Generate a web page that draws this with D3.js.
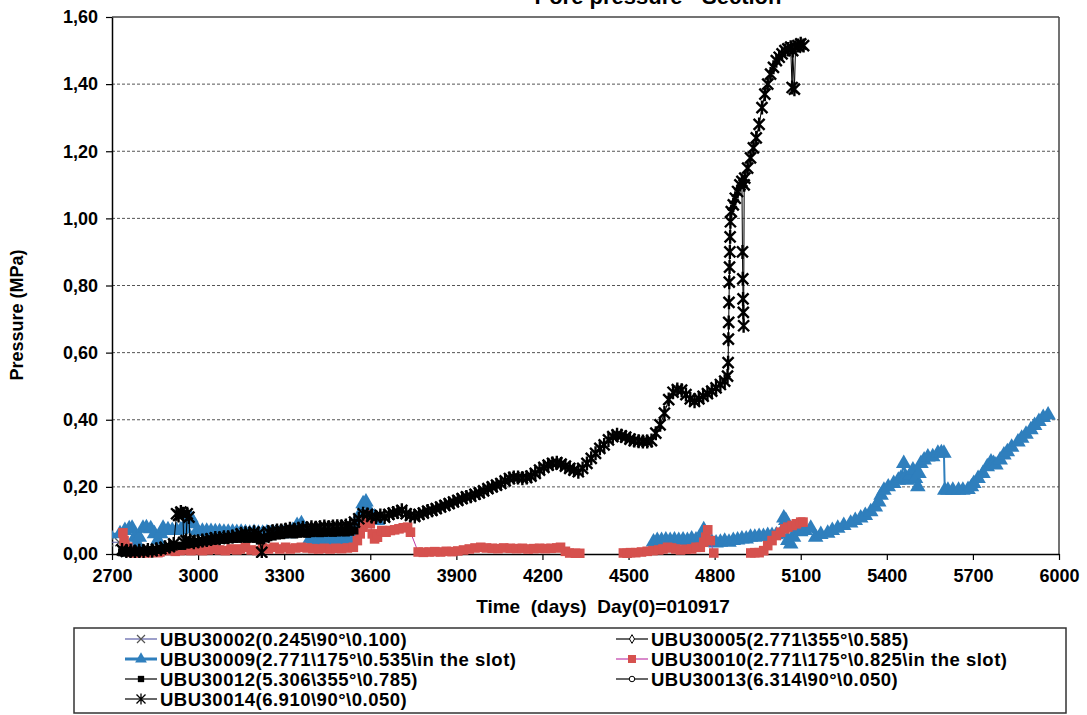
<!DOCTYPE html>
<html><head><meta charset="utf-8">
<script src="https://cdn.jsdelivr.net/npm/d3@7"></script>
<style>
body{margin:0;background:#fff}
text{font-family:"Liberation Sans",Arial,sans-serif;font-weight:bold;fill:#000}
</style>
</head><body>
<svg id="c" width="1087" height="715"></svg>
<script>
// ---------- data ----------
const xTicks = [2700,3000,3300,3600,3900,4200,4500,4800,5100,5400,5700,6000];
const yTicks = [0,0.2,0.4,0.6,0.8,1.0,1.2,1.4,1.6];
const titleText = "Pore pressure - Section";
const xLabel = "Time  (days)  Day(0)=010917";
const yLabel = "Pressure (MPa)";
const seriesNames = ["UBU30002(0.245\\90°\\0.100)","UBU30005(2.771\\355°\\0.585)","UBU30009(2.771\\175°\\0.535\\in the slot)","UBU30010(2.771\\175°\\0.825\\in the slot)","UBU30012(5.306\\355°\\0.785)","UBU30013(6.314\\90°\\0.050)","UBU30014(6.910\\90°\\0.050)"];

const ubu30002 = [[2690,0.035],[2725,0.035]];
const ubu30005 = [];
const ubu30013 = [];

const ubu30009 = [
[2690,0.06],[2728,0.06],[2745,0.07],[2760,0.075],[2770,0.077],[2780,0.05],[2787,0.033],[2795,0.05],[2808,0.077],[2820,0.078],[2835,0.075],[2848,0.06],[2860,0.042],[2870,0.06],[2878,0.077],[2895,0.072],[2910,0.07],[2925,0.07],[2940,0.072],[2955,0.075],[2965,0.1],[2975,0.107],[2985,0.09],[2997,0.07],[3015,0.068],[3030,0.068],[3045,0.067],[3060,0.066],[3075,0.066],[3090,0.065],[3105,0.065],[3120,0.065],[3135,0.064],[3150,0.065],[3165,0.063],[3180,0.062],[3195,0.064],[3210,0.062],[3225,0.062],[3240,0.063],[3255,0.062],[3270,0.062],[3285,0.06],[3300,0.062],[3315,0.06],[3330,0.07],[3345,0.085],[3360,0.09],[3375,0.07],[3390,0.045],[3405,0.042],[3420,0.04],[3435,0.045],[3450,0.042],[3465,0.04],[3480,0.043],[3495,0.045],[3510,0.042],[3525,0.045],[3540,0.055],[3555,0.09],[3565,0.12],[3575,0.15],[3585,0.155],[3595,0.13],[3605,0.115],[3615,0.11],[3625,0.1],
[3630,null],
[4587,0.036],[4600,0.04],[4615,0.04],[4630,0.042],[4645,0.04],[4660,0.042],[4675,0.04],[4690,0.042],[4705,0.04],[4720,0.045],[4735,0.042],[4750,0.045],[4762,0.072],[4775,0.045],[4790,0.035],[4805,0.033],[4820,0.035],[4835,0.038],[4850,0.035],[4865,0.04],[4880,0.042],[4895,0.045],[4910,0.045],[4925,0.05],[4940,0.05],[4955,0.052],[4970,0.052],[4985,0.055],[5000,0.055],[5015,0.057],[5030,0.06],[5041,0.107],[5048,0.1],[5055,0.04],[5065,0.03],[5075,0.05],[5085,0.07],[5100,0.066],[5115,0.07],[5135,0.077],[5152,0.05],[5170,0.058],[5194,0.062],[5210,0.07],[5229,0.077],[5250,0.085],[5274,0.092],[5290,0.1],[5309,0.107],[5325,0.115],[5344,0.126],[5360,0.14],[5372,0.155],[5380,0.175],[5390,0.19],[5405,0.2],[5424,0.21],[5440,0.22],[5449,0.226],[5459,0.27],[5465,0.23],[5473,0.22],[5482,0.235],[5491,0.25],[5500,0.225],[5508,0.2],[5512,0.24],[5519,0.27],[5530,0.28],[5543,0.289],[5560,0.29],[5578,0.3],[5590,0.302],[5599,0.3],[5602,0.19],[5613,0.19],[5630,0.19],[5650,0.19],[5665,0.19],[5683,0.192],[5695,0.2],[5703,0.21],[5718,0.225],[5735,0.24],[5750,0.26],[5763,0.274],[5772,0.27],[5780,0.265],[5795,0.28],[5808,0.295],[5820,0.305],[5835,0.318],[5857,0.334],[5870,0.345],[5885,0.357],[5902,0.37],[5915,0.383],[5930,0.395],[5945,0.407],[5962,0.414]
];

const ubu30010 = [
[2738,0.063],[2742,0.04],[2745,0.027],[2755,0.02],[2765,0.005],[2780,0.003],[2800,0.004],[2820,0.003],[2840,0.005],[2860,0.004],[2867,0.006],[2885,0.01],[2900,0.012],[2920,0.008],[2937,0.01],[2955,0.012],[2975,0.01],[2995,0.012],[3015,0.01],[3035,0.012],[3055,0.015],[3075,0.012],[3095,0.01],[3115,0.015],[3135,0.012],[3147,0.015],[3165,0.02],[3185,0.012],[3205,0.01],[3225,0.018],[3245,0.015],[3265,0.02],[3285,0.015],[3305,0.02],[3321,0.015],[3340,0.018],[3360,0.02],[3380,0.018],[3400,0.016],[3420,0.015],[3440,0.017],[3460,0.015],[3480,0.017],[3500,0.016],[3520,0.018],[3541,0.02],[3555,0.04],[3565,0.06],[3575,0.08],[3585,0.1],[3592,0.116],[3600,0.09],[3607,0.06],[3615,0.045],[3625,0.05],[3640,0.07],[3655,0.065],[3670,0.07],[3685,0.072],[3700,0.075],[3715,0.078],[3730,0.08],[3740,0.065],[3767,0.006],[3785,0.005],[3805,0.006],[3825,0.007],[3845,0.006],[3865,0.008],[3885,0.007],[3905,0.009],[3925,0.012],[3945,0.015],[3965,0.018],[3985,0.02],[4005,0.018],[4025,0.017],[4045,0.016],[4065,0.018],[4088,0.017],[4110,0.016],[4130,0.017],[4150,0.015],[4170,0.016],[4190,0.017],[4210,0.016],[4230,0.017],[4250,0.018],[4263,0.02],[4280,0.008],[4295,0.003],[4315,0.002],[4330,0.002],
[4400,null],
[4482,0.003],[4495,0.002],[4507,0.004],[4525,0.004],[4545,0.006],[4565,0.008],[4585,0.01],[4605,0.012],[4620,0.015],[4636,0.02],[4650,0.018],[4665,0.015],[4681,0.012],[4700,0.014],[4720,0.015],[4735,0.02],[4750,0.02],[4762,0.035],[4769,0.05],[4776,0.072],[4785,0.04],[4797,0.003],
[4850,null],
[4926,0.003],[4940,0.004],[4955,0.004],[4971,0.01],[4985,0.025],[5000,0.04],[5015,0.055],[5030,0.065],[5045,0.075],[5055,0.08],[5070,0.085],[5085,0.09],[5100,0.095],[5108,0.095]
];

const ubu30012 = [
[2735,0.005],[2750,0.004],[2765,0.006],[2780,0.005],[2795,0.008],[2810,0.007],[2825,0.01],[2840,0.008],[2855,0.012],[2870,0.012],[2885,0.018],[2900,0.02],[2915,0.022],[2930,0.025],[2945,0.024],[2960,0.028],[2975,0.03],[2990,0.032],[3005,0.035],[3020,0.037],[3035,0.038],[3050,0.04],[3065,0.04],[3080,0.042],[3095,0.042],[3110,0.044],[3125,0.045],[3140,0.045],[3155,0.046],[3170,0.045],[3185,0.046],[3200,0.045],[3215,0.04],[3230,0.046],[3245,0.05],[3260,0.052],[3275,0.055],[3290,0.056],[3305,0.058],[3320,0.06],[3335,0.058],[3350,0.06],[3365,0.062],[3380,0.06],[3395,0.062],[3410,0.063],[3425,0.062],[3440,0.063],[3455,0.064],[3470,0.063],[3485,0.064],[3500,0.065],[3515,0.064],[3530,0.066],[3545,0.07]
];

const ubu30014 = [
[2735,0.012],[2750,0.008],[2765,0.01],[2780,0.006],[2795,0.01],[2810,0.008],[2825,0.012],[2840,0.01],[2855,0.014],[2870,0.016],[2885,0.02],[2900,0.022],[2915,0.03],[2925,0.12],[2932,0.115],[2940,0.125],[2947,0.12],[2950,0.035],[2958,0.04],[2962,0.12],[2968,0.11],[2972,0.04],[2985,0.035],[3000,0.038],[3015,0.04],[3030,0.042],[3045,0.045],[3060,0.048],[3075,0.047],[3090,0.05],[3105,0.05],[3120,0.052],[3135,0.055],[3150,0.06],[3165,0.062],[3180,0.058],[3195,0.065],[3210,0.06],[3222,0.005],[3230,0.05],[3245,0.065],[3260,0.068],[3275,0.07],[3290,0.07],[3305,0.072],[3320,0.075],[3335,0.072],[3350,0.075],[3365,0.078],[3380,0.076],[3395,0.08],[3410,0.078],[3425,0.08],[3440,0.082],[3455,0.08],[3470,0.082],[3485,0.083],[3500,0.082],[3515,0.085],[3530,0.085],[3545,0.095],[3560,0.105],[3575,0.12],[3590,0.118],[3605,0.112],[3620,0.11],[3635,0.115],[3650,0.11],[3665,0.118],[3680,0.122],[3695,0.125],[3710,0.13],[3725,0.12],
[3740,0.115],[3755,0.112],[3770,0.118],[3785,0.122],[3800,0.128],[3815,0.13],[3830,0.135],[3845,0.14],[3860,0.145],[3875,0.15],[3890,0.155],[3905,0.16],[3920,0.165],[3935,0.17],[3950,0.172],[3965,0.178],[3980,0.182],[3995,0.188],[4010,0.195],[4025,0.2],[4040,0.205],[4055,0.21],[4070,0.218],[4085,0.225],[4100,0.228],[4115,0.228],[4130,0.226],[4145,0.228],[4160,0.232],[4175,0.24],[4190,0.25],[4205,0.258],[4220,0.265],[4235,0.27],[4250,0.272],[4265,0.268],[4280,0.262],[4295,0.255],[4310,0.25],[4325,0.245],[4340,0.255],[4355,0.27],[4370,0.285],[4385,0.3],[4400,0.315],[4415,0.325],[4430,0.34],[4445,0.35],[4460,0.355],[4475,0.352],[4490,0.348],[4505,0.342],[4520,0.338],[4535,0.336],[4550,0.335],[4565,0.335],[4580,0.338],[4595,0.36],[4610,0.385],[4625,0.42],[4640,0.46],[4655,0.482],[4670,0.49],[4685,0.488],[4700,0.475],[4715,0.462],[4730,0.455],[4745,0.462],[4760,0.47],[4775,0.478],[4790,0.485],[4805,0.495],[4820,0.505],[4835,0.515],[4845,0.53],
[4847,0.57],[4848,0.64],[4849,0.69],[4850,0.75],[4851,0.81],[4852,0.855],[4853,0.9],[4854,0.945],[4855,0.99],[4858,1.02],[4865,1.04],[4872,1.06],[4880,1.08],[4888,1.1],[4895,1.11],[4897,0.9],[4898,0.82],[4899,0.76],[4900,0.72],[4901,0.68],[4903,1.1],[4905,1.12],[4915,1.15],[4925,1.18],[4935,1.21],[4945,1.24],[4955,1.28],[4965,1.33],[4975,1.37],[4985,1.4],[4995,1.43],[5005,1.45],[5015,1.47],[5025,1.48],[5035,1.49],[5045,1.5],[5055,1.505],[5065,1.51],[5070,1.39],[5072,1.5],[5078,1.385],[5082,1.51],[5090,1.515],[5100,1.52],[5110,1.515]
];

// ---------- layout ----------
const svg = d3.select("#c");
const L = 112, R = 1059, T = 17, B = 554;
const x = d3.scaleLinear().domain([2700,6000]).range([L,R]);
const y = d3.scaleLinear().domain([0,1.6]).range([B,T]);

svg.append("defs").append("clipPath").attr("id","clip")
  .append("rect").attr("x",L).attr("y",T-8).attr("width",R-L).attr("height",B-T+12);

// title (cut at top in reference)
svg.append("text").attr("x",658).attr("y",4).attr("text-anchor","middle")
  .style("font-size","22px").text(titleText);

// gridlines
svg.append("g").selectAll("line").data(yTicks.filter(d=>d>0&&d<1.6)).join("line")
  .attr("x1",L).attr("x2",R).attr("y1",d=>y(d)).attr("y2",d=>y(d))
  .attr("stroke","#555").attr("stroke-width",1).attr("stroke-dasharray","3,2");
svg.append("line").attr("x1",L).attr("x2",R).attr("y1",y(1.6)).attr("y2",y(1.6)).attr("stroke","#444").attr("stroke-width",1.5);
svg.append("line").attr("x1",R).attr("x2",R).attr("y1",T).attr("y2",B).attr("stroke","#444").attr("stroke-width",1.5);

// axes
const fmtY = d => d.toFixed(2).replace(".",",");
const gx = svg.append("g").attr("transform",`translate(0,${B})`)
  .call(d3.axisBottom(x).tickValues(xTicks).tickSize(6).tickPadding(9).tickSizeOuter(0).tickFormat(d3.format("d")));
const gy = svg.append("g").attr("transform",`translate(${L},0)`)
  .call(d3.axisLeft(y).tickValues(yTicks).tickSize(6).tickPadding(8).tickSizeOuter(0).tickFormat(fmtY));
[gx,gy].forEach(g=>{
  g.select(".domain").attr("stroke","#000").attr("stroke-width",1.5);
  g.selectAll(".tick line").attr("stroke","#000").attr("stroke-width",1.2);
  g.selectAll(".tick text").style("font-size","18px").style("font-family","'Liberation Sans',Arial,sans-serif").style("font-weight","bold").attr("fill","#000");
});

// axis titles
svg.append("text").attr("x",603).attr("y",613).attr("text-anchor","middle")
  .attr("xml:space","preserve").style("white-space","pre").style("font-size","19px").text(xLabel);
svg.append("text").attr("transform","translate(23,315) rotate(-90)").attr("text-anchor","middle")
  .style("font-size","18px").text(yLabel);

// ---------- marker definitions ----------
const starPath = "M-5.5,-5.5L5.5,5.5M-5.5,5.5L5.5,-5.5M0,-7L0,7";
const xPath = "M-4,-4L4,4M-4,4L4,-4";
const styles = {
  ubu30002:{line:"#5b5ea6", lw:1, mk:"x"},
  ubu30005:{line:"#000", lw:1, mk:"diamond"},
  ubu30009:{line:"#2f7fbd", lw:2, mk:"tri", color:"#2f7fbd"},
  ubu30010:{line:"#c03ca8", lw:1, mk:"sq", color:"#d6514e"},
  ubu30012:{line:"#000", lw:1, mk:"bsq", color:"#000"},
  ubu30013:{line:"#000", lw:1, mk:"circle"},
  ubu30014:{line:"#000", lw:1, mk:"star"}
};
function drawMarker(sel, mk, color, legend){
  if(mk==="tri") sel.append("path").attr("d",d3.symbol(d3.symbolTriangle,legend?60:105)()).attr("fill",color);
  else if(mk==="sq") sel.append("path").attr("d",d3.symbol(d3.symbolSquare,legend?64:92)()).attr("fill",color);
  else if(mk==="bsq") sel.append("path").attr("d",d3.symbol(d3.symbolSquare,legend?40:64)()).attr("fill",color);
  else if(mk==="star") sel.append("path").attr("d",legend?"M-4.5,-4.5L4.5,4.5M-4.5,4.5L4.5,-4.5M0,-5.5L0,5.5":starPath).attr("stroke","#000").attr("stroke-width",legend?1.3:2.4).attr("fill","none");
  else if(mk==="x") sel.append("path").attr("d",xPath).attr("stroke","#555").attr("stroke-width",1.2).attr("fill","none");
  else if(mk==="diamond") sel.append("path").attr("d",d3.symbol(d3.symbolDiamond,22)()).attr("fill","#fff").attr("stroke","#000").attr("stroke-width",1);
  else if(mk==="circle") sel.append("path").attr("d",d3.symbol(d3.symbolCircle,24)()).attr("fill","#fff").attr("stroke","#000").attr("stroke-width",1);
}

// ---------- series ----------
const plot = svg.append("g").attr("clip-path","url(#clip)");
const seriesList = [["ubu30002",ubu30002],["ubu30005",ubu30005],["ubu30009",ubu30009],["ubu30010",ubu30010],["ubu30012",ubu30012],["ubu30013",ubu30013],["ubu30014",ubu30014]];
const line = d3.line().defined(d=>d[1]!==null).x(d=>x(d[0])).y(d=>y(d[1]));
seriesList.forEach(([key,data])=>{
  const st = styles[key];
  const g = plot.append("g");
  g.append("path").datum(data).attr("d",line).attr("fill","none").attr("stroke",st.line).attr("stroke-width",st.lw);
  g.selectAll("g.m").data(data.filter(d=>d[1]!==null)).join("g").attr("class","m")
    .attr("transform",d=>`translate(${x(d[0])},${y(d[1])})`)
    .each(function(){ drawMarker(d3.select(this), st.mk, st.color, false); });
});

// ---------- legend ----------
const lg = svg.append("g");
lg.append("rect").attr("x",74).attr("y",628).attr("width",992).attr("height",85)
  .attr("fill","#fff").attr("stroke","#333").attr("stroke-width",1.5);
const keys = ["ubu30002","ubu30005","ubu30009","ubu30010","ubu30012","ubu30013","ubu30014"];
keys.forEach((k,i)=>{
  const col = i%2, row = Math.floor(i/2);
  const lx = col===0 ? 125 : 616;
  const cy = 639 + row*20;
  const st = styles[k];
  lg.append("line").attr("x1",lx).attr("x2",lx+32).attr("y1",cy).attr("y2",cy)
    .attr("stroke",st.line).attr("stroke-width",k==="ubu30009"?3:1.2);
  const m = lg.append("g").attr("transform",`translate(${lx+16},${cy})`);
  drawMarker(m, st.mk, st.color, true);
  lg.append("text").attr("x",lx+35).attr("y",cy).attr("dy","0.36em")
    .style("font-size","18.5px").style("letter-spacing","0.5px").text(seriesNames[i]);
});
</script>
</body></html>
